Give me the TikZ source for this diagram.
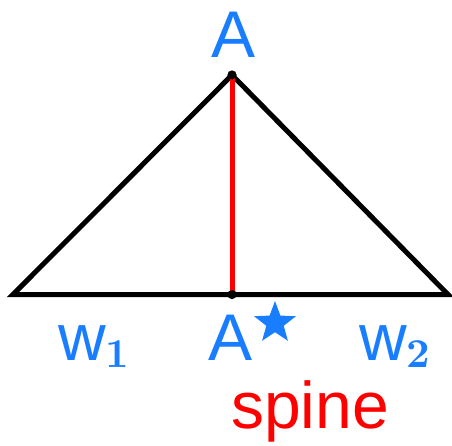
\documentclass[tikz,border=0pt]{standalone}
\usepackage{fontspec}
\setmainfont{Liberation Sans}
\newfontfamily\lmrb{lmroman10-bold}[Extension=.otf]
\usetikzlibrary{shapes.geometric}
\definecolor{lblue}{RGB}{25,125,255}
\definecolor{lred}{RGB}{255,0,0}
\newcommand{\subdig}[1]{\raisebox{-7pt}{\fontsize{41}{44}\lmrb #1}}
\begin{document}
\begin{tikzpicture}[x=1pt,y=-1pt,
  edge/.style={line width=5pt,line join=miter},
  lbl/.style={text=lblue,inner sep=0pt,anchor=base,font=\fontsize{66}{70}\selectfont},
  dotpt/.style={circle,fill=black,inner sep=0pt,minimum size=9pt}]
\useasboundingbox (0,0) rectangle (452,445);
\coordinate (L) at (13,294.5);
\coordinate (R) at (448,294.5);
\node[dotpt] (top) at (232,75) {};
\node[dotpt] (mid) at (232,294.5) {};
\draw[edge] (L) -- (top.center) -- (R) -- cycle;
\draw[line width=5pt,lred] (top.center) -- (mid.center);
\node[dotpt] at (232,75) {};
\node[dotpt] at (232,294.5) {};
\node[lbl] (a) at (234,57) {A};
\node[lbl] (astar) at (231,360) {A};
\node[star,star points=5,star point ratio=2.4,fill=lblue,inner sep=0pt,minimum size=44pt] (st) at (275,323) {};
\node[lbl,anchor=base west] (w1) at (58,360) {w\subdig{1}};
\node[lbl,anchor=base west] (w2) at (359,360) {w\subdig{2}};
\node[lbl,text=lred,anchor=base west] (sp) at (231,428) {spine};
\end{tikzpicture}
\end{document}
